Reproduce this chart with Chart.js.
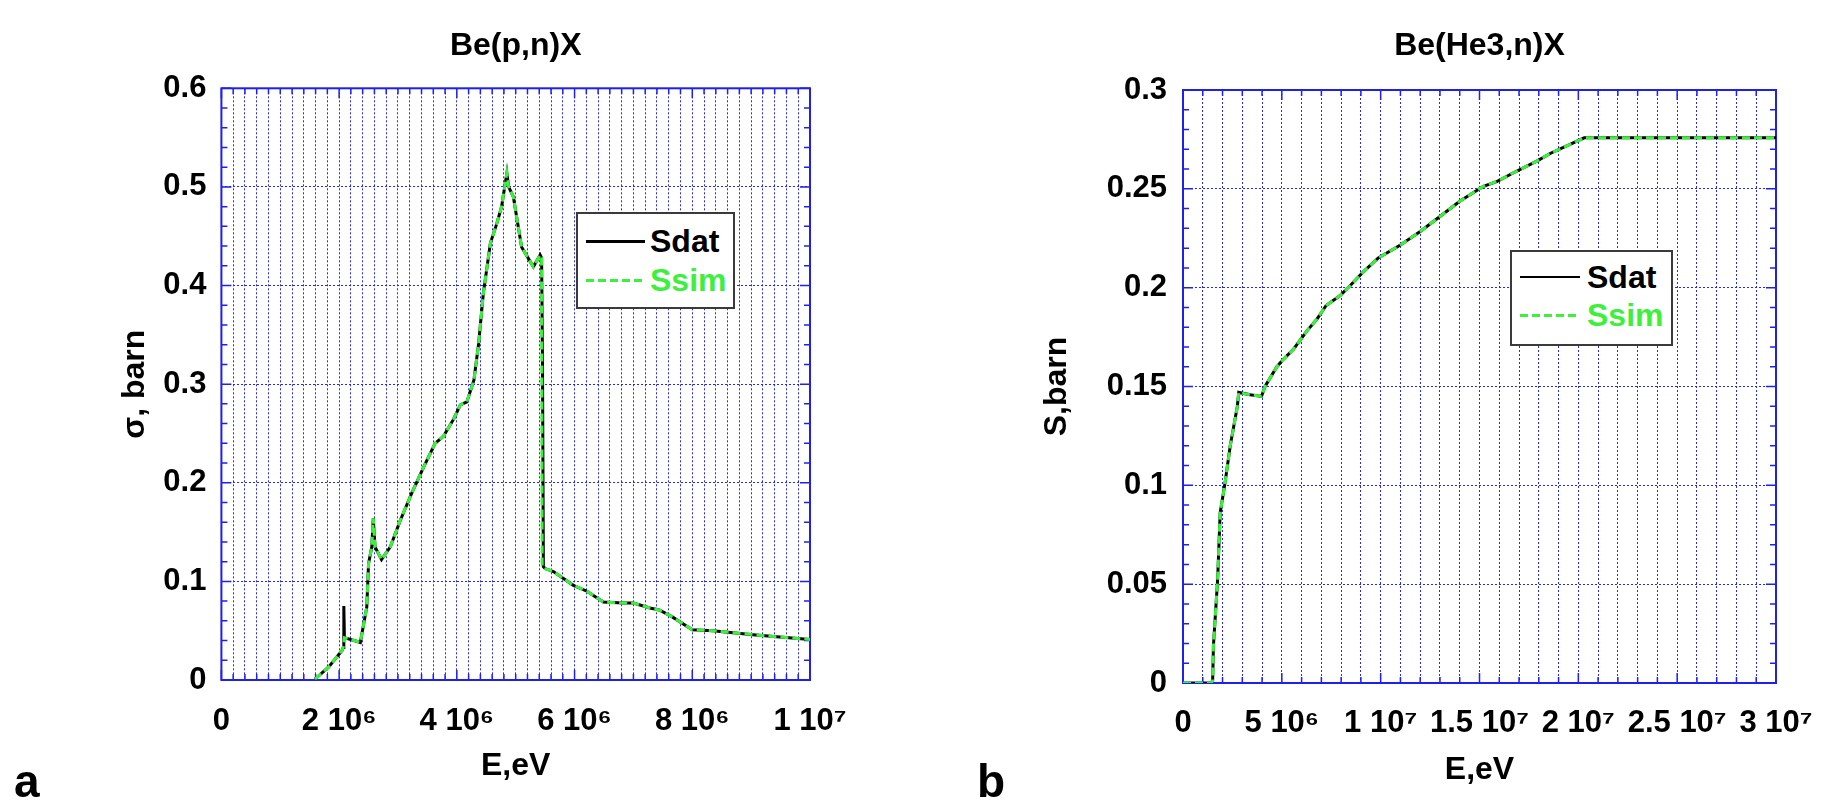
<!DOCTYPE html>
<html>
<head>
<meta charset="utf-8">
<script src="https://cdn.jsdelivr.net/npm/chart.js@4.4.1/dist/chart.umd.min.js"></script>
<style>
html,body{margin:0;padding:0;background:#fff;}
#wrap{position:relative;width:1835px;height:800px;overflow:hidden;background:#fff;font-family:"Liberation Sans",Arial,Helvetica,sans-serif;}
canvas{position:absolute;top:0;}
#cA{left:0;}
#cB{left:917px;}
.legend{position:absolute;background:#fff;border:2px solid #3a3a3a;box-sizing:border-box;}
.smp{position:absolute;}
.solid{background:#000;}
.dash{background:repeating-linear-gradient(to right,#3cf03c 0 8px,transparent 8px 12px);}
.txt{position:absolute;font-weight:bold;font-size:32px;line-height:36px;white-space:nowrap;}
.panel{position:absolute;font-weight:bold;font-size:46px;line-height:46px;color:#000;}
</style>
</head>
<body>
<div id="wrap">
  <canvas id="cA" width="917" height="800"></canvas>
  <canvas id="cB" width="918" height="800"></canvas>

  <div class="legend" style="left:576px;top:212px;width:159px;height:97px;">
    <div class="smp solid" style="left:8px;top:26px;width:59px;height:3px;"></div>
    <div class="txt" style="left:72px;top:9px;color:#000;">Sdat</div>
    <div class="smp dash" style="left:8px;top:65px;width:59px;height:3px;"></div>
    <div class="txt" style="left:72px;top:48px;color:#3cf03c;">Ssim</div>
  </div>

  <div class="legend" style="left:1510px;top:250px;width:163px;height:96px;">
    <div class="smp solid" style="left:8px;top:24px;width:60px;height:2px;"></div>
    <div class="txt" style="left:75px;top:7px;color:#000;">Sdat</div>
    <div class="smp dash" style="left:8px;top:62px;width:60px;height:3px;"></div>
    <div class="txt" style="left:75px;top:45px;color:#3cf03c;">Ssim</div>
  </div>

  <div class="panel" style="left:14px;top:758px;">a</div>
  <div class="panel" style="left:977px;top:758px;">b</div>
</div>

<script>
// ---------------- Panel a : Be(p,n)X ----------------
const titleA = 'Be(p,n)X';
const yTitleA = 'σ, barn';
const xTitleA = 'E,eV';
const energyA_Sdat = [1.59e6, 1.82e6, 2.05e6, 2.07e6, 2.08e6, 2.09e6, 2.31e6, 2.36e6, 2.47e6, 2.50e6,
  2.555e6, 2.58e6, 2.61e6, 2.72e6, 2.87e6, 3.04e6, 3.23e6, 3.43e6, 3.63e6, 3.77e6,
  3.94e6, 4.06e6, 4.17e6, 4.29e6, 4.37e6, 4.45e6, 4.57e6, 4.68e6, 4.76e6, 4.85e6,
  4.88e6, 4.96e6, 5.10e6, 5.25e6, 5.30e6, 5.415e6, 5.44e6, 5.455e6, 5.47e6, 5.50e6,
  5.64e6, 5.98e6, 6.21e6, 6.49e6, 6.83e6, 7.0e6, 7.28e6, 7.44e6, 7.66e6, 8.0e6,
  8.35e6, 9.03e6, 1.0e7];
const sigmaA_Sdat = [0.001, 0.013, 0.030, 0.033, 0.075, 0.043, 0.039, 0.038, 0.074, 0.118,
  0.135, 0.164, 0.135, 0.122, 0.135, 0.162, 0.189, 0.215, 0.240, 0.247,
  0.264, 0.279, 0.282, 0.304, 0.341, 0.392, 0.443, 0.463, 0.480, 0.514,
  0.500, 0.490, 0.439, 0.424, 0.419, 0.431, 0.428, 0.326, 0.115, 0.113,
  0.110, 0.096, 0.090, 0.079, 0.078, 0.078, 0.073, 0.071, 0.064, 0.051,
  0.050, 0.046, 0.041];
const energyA_Ssim = [1.59e6, 1.82e6, 2.05e6, 2.07e6, 2.09e6, 2.31e6, 2.36e6, 2.47e6, 2.50e6,
  2.555e6, 2.58e6, 2.61e6, 2.72e6, 2.87e6, 3.04e6, 3.23e6, 3.43e6, 3.63e6, 3.77e6,
  3.94e6, 4.06e6, 4.17e6, 4.29e6, 4.37e6, 4.45e6, 4.57e6, 4.68e6, 4.76e6, 4.85e6,
  4.88e6, 4.96e6, 5.10e6, 5.25e6, 5.30e6, 5.415e6, 5.44e6, 5.45e6, 5.50e6,
  5.64e6, 5.98e6, 6.21e6, 6.49e6, 6.83e6, 7.0e6, 7.28e6, 7.44e6, 7.66e6, 8.0e6,
  8.35e6, 9.03e6, 1.0e7];
const sigmaA_Ssim = [0.001, 0.013, 0.030, 0.033, 0.043, 0.039, 0.038, 0.074, 0.118,
  0.135, 0.164, 0.135, 0.122, 0.135, 0.162, 0.189, 0.215, 0.240, 0.247,
  0.264, 0.279, 0.282, 0.304, 0.341, 0.392, 0.443, 0.463, 0.480, 0.514,
  0.500, 0.490, 0.439, 0.424, 0.419, 0.431, 0.428, 0.115, 0.113,
  0.110, 0.096, 0.090, 0.079, 0.078, 0.078, 0.073, 0.071, 0.064, 0.051,
  0.050, 0.046, 0.041];
const xTickValuesA = [0, 2e6, 4e6, 6e6, 8e6, 1e7];
const xTickLabelsA = ['0', '2 10⁶', '4 10⁶', '6 10⁶', '8 10⁶', '1 10⁷'];
const yTickValuesA = [0, 0.1, 0.2, 0.3, 0.4, 0.5, 0.6];
const yTickLabelsA = ['0', '0.1', '0.2', '0.3', '0.4', '0.5', '0.6'];

// ---------------- Panel b : Be(He3,n)X ----------------
const titleB = 'Be(He3,n)X';
const yTitleB = 'S,barn';
const xTitleB = 'E,eV';
const energyB_Sdat = [0, 1.4e6, 1.5e6, 1.54e6, 1.75e6, 1.88e6, 2.13e6, 2.39e6, 2.75e6, 2.82e6,
  3.4e6, 3.97e6, 4.15e6, 4.75e6, 5.1e6, 5.6e6, 6.26e6, 6.77e6, 7.24e6, 7.95e6,
  8.45e6, 9.12e6, 9.88e6, 1.1e7, 1.2e7, 1.3e7, 1.4e7, 1.52e7, 1.59e7, 1.67e7,
  1.79e7, 1.86e7, 2.03e7, 3.0e7];
const sigmaB_Sdat = [0, 0, 0.001, 0.019, 0.052, 0.086, 0.1015, 0.120, 0.140, 0.147,
  0.1458, 0.145, 0.150, 0.160, 0.164, 0.169, 0.178, 0.184, 0.191, 0.196,
  0.201, 0.208, 0.215, 0.2216, 0.2284, 0.236, 0.2437, 0.2513, 0.2538, 0.258,
  0.264, 0.268, 0.2758, 0.2758];
const energyB_Ssim = [0, 1.4e6, 1.5e6, 1.54e6, 1.75e6, 1.88e6, 2.13e6, 2.39e6, 2.75e6, 2.82e6,
  3.4e6, 3.97e6, 4.15e6, 4.75e6, 5.1e6, 5.6e6, 6.26e6, 6.77e6, 7.24e6, 7.95e6,
  8.45e6, 9.12e6, 9.88e6, 1.1e7, 1.2e7, 1.3e7, 1.4e7, 1.52e7, 1.59e7, 1.67e7,
  1.79e7, 1.86e7, 2.03e7, 3.0e7];
const sigmaB_Ssim = [0, 0, 0.001, 0.019, 0.052, 0.086, 0.1015, 0.120, 0.140, 0.147,
  0.1458, 0.145, 0.150, 0.160, 0.164, 0.169, 0.178, 0.184, 0.191, 0.196,
  0.201, 0.208, 0.215, 0.2216, 0.2284, 0.236, 0.2437, 0.2513, 0.2538, 0.258,
  0.264, 0.268, 0.2758, 0.2758];
const xTickValuesB = [0, 5e6, 1e7, 1.5e7, 2e7, 2.5e7, 3e7];
const xTickLabelsB = ['0', '5 10⁶', '1 10⁷', '1.5 10⁷', '2 10⁷', '2.5 10⁷', '3 10⁷'];
const yTickValuesB = [0, 0.05, 0.1, 0.15, 0.2, 0.25, 0.3];
const yTickLabelsB = ['0', '0.05', '0.1', '0.15', '0.2', '0.25', '0.3'];

const seriesNames = ['Sdat', 'Ssim'];

// ---------------- styling ----------------
const FONT = "'Liberation Sans', Arial, Helvetica, sans-serif";
Chart.defaults.font.family = FONT;
Chart.defaults.color = '#000';
const GREEN = '#3cf03c';
const GRID = 'rgba(30,30,230,0.95)';
const FRAME = '#2020ee';

const frameTicks = {
  id: 'frameTicks',
  beforeDatasetsDraw(chart, args, o) {
    const {ctx, chartArea: a} = chart;
    const xs = chart.scales.x, ys = chart.scales.y;
    ctx.save();
    ctx.strokeStyle = o.color;
    ctx.lineWidth = 1.5;
    ctx.setLineDash([]);
    ctx.beginPath();
    xs.ticks.forEach(t => {
      const px = xs.getPixelForValue(t.value);
      const major = o.xMajor.some(v => Math.abs(v - t.value) < 1);
      const len = major ? o.major : o.minor;
      ctx.moveTo(px, a.bottom); ctx.lineTo(px, a.bottom - len);
      ctx.moveTo(px, a.top); ctx.lineTo(px, a.top + len);
    });
    const n = Math.round((ys.max - ys.min) / o.yMinor);
    for (let i = 0; i <= n; i++) {
      const v = ys.min + i * o.yMinor;
      const py = ys.getPixelForValue(v);
      const r = v / o.yMajor;
      const major = Math.abs(r - Math.round(r)) < 1e-6;
      const len = major ? o.major : o.minor;
      ctx.moveTo(a.left, py); ctx.lineTo(a.left + len, py);
      ctx.moveTo(a.right, py); ctx.lineTo(a.right - len, py);
    }
    ctx.stroke();
    ctx.lineWidth = 2;
    ctx.strokeRect(a.left, a.top, a.right - a.left, a.bottom - a.top);
    ctx.restore();
  }
};

function labelFor(values, labels, v, tol) {
  const i = values.findIndex(t => Math.abs(t - v) < tol);
  return i >= 0 ? labels[i] : '';
}

function buildChart(id, p) {
  const toXY = (xs, ys) => xs.map((x, i) => ({x: x, y: ys[i]}));
  return new Chart(document.getElementById(id), {
    type: 'line',
    data: {
      datasets: [
        {label: seriesNames[0], data: toXY(p.sdatX, p.sdatY), borderColor: '#000', backgroundColor: '#000',
         borderWidth: p.sdatW, pointRadius: 0, tension: 0, fill: false, order: 2},
        {label: seriesNames[1], data: toXY(p.ssimX, p.ssimY), borderColor: GREEN, backgroundColor: GREEN,
         borderWidth: 3, borderDash: [8, 4], pointRadius: 0, tension: 0, fill: false, order: 1}
      ]
    },
    options: {
      responsive: false,
      animation: false,
      devicePixelRatio: 1,
      events: [],
      layout: {padding: p.pad},
      plugins: {
        legend: {display: false},
        tooltip: {enabled: false},
        title: {display: true, text: p.title, color: '#000', fullSize: false,
                font: {family: FONT, size: 32, weight: 'bold', lineHeight: 1.2},
                padding: {top: 0, bottom: p.titleGap}},
        frameTicks: {color: FRAME, xMajor: p.xTickValues, yMinor: p.yMinor, yMajor: p.yStep, minor: 6, major: 10}
      },
      scales: {
        x: {
          type: 'linear', position: 'bottom', min: 0, max: p.xMax,
          ticks: {stepSize: p.xStep, autoSkip: false, maxRotation: 0, minRotation: 0, padding: p.xTickPad,
                  color: '#000', font: {family: FONT, size: 31, weight: 'bold'},
                  callback: v => labelFor(p.xTickValues, p.xTickLabels, v, 1)},
          grid: {color: GRID, lineWidth: 1, drawTicks: false},
          border: {display: false, dash: [2, 2]},
          title: {display: true, text: p.xTitle, color: '#000', font: {family: FONT, size: 32, weight: 'bold'},
                  padding: {top: 0, bottom: 0}},
          afterFit: s => { s.height = p.xAxisH; }
        },
        y: {
          type: 'linear', position: 'left', min: 0, max: p.yMax,
          ticks: {stepSize: p.yStep, padding: p.yTickPad, color: '#000',
                  font: {family: FONT, size: 31, weight: 'bold'},
                  callback: v => labelFor(p.yTickValues, p.yTickLabels, v, 1e-9)},
          grid: {color: GRID, lineWidth: 1, drawTicks: false},
          border: {display: false, dash: [2, 2]},
          title: {display: true, text: p.yTitle, color: '#000', font: {family: FONT, size: 32, weight: 'bold'},
                  padding: {top: 0, bottom: 0}},
          afterFit: s => { s.width = p.yAxisW; }
        }
      }
    },
    plugins: [frameTicks]
  });
}

buildChart('cA', {
  title: titleA, xTitle: xTitleA, yTitle: yTitleA,
  sdatX: energyA_Sdat, sdatY: sigmaA_Sdat, ssimX: energyA_Ssim, ssimY: sigmaA_Ssim, sdatW: 3,
  xMax: 1e7, xStep: 2e5, xTickValues: xTickValuesA, xTickLabels: xTickLabelsA,
  yMax: 0.6, yStep: 0.1, yMinor: 0.02, yTickValues: yTickValuesA, yTickLabels: yTickLabelsA,
  pad: {left: 116, right: 107, top: 27, bottom: 15},
  titleGap: 22.9, yAxisW: 105.4, xAxisH: 105, xTickPad: 23, yTickPad: 15
});

buildChart('cB', {
  title: titleB, xTitle: xTitleB, yTitle: yTitleB,
  sdatX: energyB_Sdat, sdatY: sigmaB_Sdat, ssimX: energyB_Ssim, ssimY: sigmaB_Ssim, sdatW: 3,
  xMax: 3e7, xStep: 1e6, xTickValues: xTickValuesB, xTickLabels: xTickLabelsB,
  yMax: 0.3, yStep: 0.05, yMinor: 0.01, yTickValues: yTickValuesB, yTickLabels: yTickLabelsB,
  pad: {left: 121, right: 59, top: 27, bottom: 11},
  titleGap: 24.6, yAxisW: 145, xAxisH: 106, xTickPad: 22, yTickPad: 16
});
</script>
</body>
</html>
